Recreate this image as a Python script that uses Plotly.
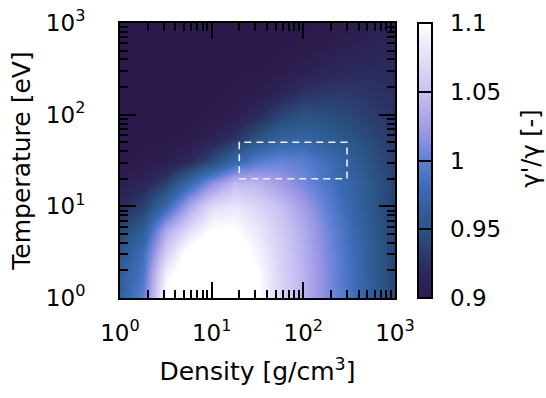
import plotly.graph_objects as go

# grid coordinates (log10 of density in g/cm^3 and temperature in eV)
log_density = [0.0, 0.25, 0.5, 0.75, 1.0, 1.25, 1.5, 1.75, 2.0, 2.25, 2.5, 2.75, 3.0]
log_temperature = [0.0, 0.25, 0.5, 0.75, 1.0, 1.25, 1.5, 1.75, 2.0, 2.25, 2.5, 2.75, 3.0]

# gamma'/gamma; rows = temperature (low -> high), cols = density
gamma_ratio = [
    [0.965, 1.000, 1.100, 1.120, 1.120, 1.120, 1.100, 1.065, 1.040, 1.012, 0.988, 0.962, 0.938],
    [0.962, 0.990, 1.090, 1.120, 1.120, 1.120, 1.100, 1.065, 1.040, 1.012, 0.987, 0.960, 0.937],
    [0.952, 0.982, 1.060, 1.110, 1.120, 1.115, 1.090, 1.062, 1.038, 1.010, 0.985, 0.958, 0.936],
    [0.938, 0.960, 1.030, 1.070, 1.100, 1.100, 1.080, 1.058, 1.035, 1.007, 0.982, 0.956, 0.935],
    [0.917, 0.935, 0.975, 1.030, 1.070, 1.080, 1.065, 1.048, 1.025, 1.000, 0.975, 0.952, 0.934],
    [0.905, 0.915, 0.935, 0.975, 1.015, 1.045, 1.040, 1.025, 1.008, 0.990, 0.972, 0.952, 0.935],
    [0.900, 0.901, 0.905, 0.917, 0.942, 0.972, 0.995, 1.002, 0.997, 0.982, 0.965, 0.947, 0.932],
    [0.900, 0.900, 0.900, 0.901, 0.910, 0.926, 0.950, 0.965, 0.970, 0.960, 0.950, 0.940, 0.930],
    [0.900, 0.900, 0.900, 0.900, 0.901, 0.906, 0.920, 0.938, 0.948, 0.945, 0.940, 0.932, 0.925],
    [0.900, 0.900, 0.900, 0.900, 0.900, 0.901, 0.904, 0.913, 0.925, 0.930, 0.930, 0.927, 0.922],
    [0.900, 0.900, 0.900, 0.900, 0.900, 0.900, 0.900, 0.902, 0.907, 0.914, 0.918, 0.920, 0.918],
    [0.900, 0.900, 0.900, 0.900, 0.900, 0.900, 0.900, 0.900, 0.901, 0.904, 0.908, 0.912, 0.914],
    [0.900, 0.900, 0.900, 0.900, 0.900, 0.900, 0.900, 0.900, 0.900, 0.901, 0.903, 0.907, 0.910],
]

# dashed box (density and temperature limits)
box_density = [20, 300]
box_temperature = [20, 50]

# tick labels
axis_tickvals = [1, 10, 100, 1000]
axis_ticktext = ["10<sup>0</sup>", "10<sup>1</sup>", "10<sup>2</sup>", "10<sup>3</sup>"]
cbar_tickvals = [0.9, 0.95, 1.0, 1.05, 1.1]
cbar_ticktext = ["0.9", "0.95", "1", "1.05", "1.1"]

colorscale = [
    [0.0, "#2d1a4c"],
    [0.1, "#2b2a5c"],
    [0.25, "#2a5585"],
    [0.4, "#3b6bb5"],
    [0.5, "#6080d5"],
    [0.6, "#9a96e4"],
    [0.75, "#c8c2f2"],
    [0.9, "#e9e6fa"],
    [1.0, "#ffffff"],
]

minor_vals = [m * d for d in (1, 10, 100) for m in range(2, 10)]
FONT = "DejaVu Sans"
TICK_FS = 23
TITLE_FS = 25
PAD = "\u00a0\u2009"

fig = go.Figure()
fig.add_trace(go.Heatmap(
    x=log_density, y=log_temperature, z=gamma_ratio,
    zmin=0.9, zmax=1.1, zsmooth="best", colorscale=colorscale,
    xaxis="x", yaxis="y",
    colorbar=dict(
        x=1.0836, xanchor="left", xref="paper", xpad=0,
        y=0.5, yanchor="middle", len=1.0, lenmode="fraction", ypad=0,
        thickness=14, outlinewidth=2, outlinecolor="black",
        tickmode="array", tickvals=cbar_tickvals,
        ticktext=[PAD + t for t in cbar_ticktext],
        ticks="inside", ticklen=14, tickwidth=2, tickcolor="black",
        tickfont=dict(family=FONT, size=TICK_FS, color="black"),
    ),
))

bx = [box_density[0], box_density[1], box_density[1], box_density[0], box_density[0]]
by = [box_temperature[0], box_temperature[0], box_temperature[1], box_temperature[1], box_temperature[0]]
fig.add_trace(go.Scatter(
    x=bx, y=by, mode="lines", xaxis="x2", yaxis="y2",
    line=dict(color="rgba(238,238,242,1)", width=1.6, dash="7px,5px"),
    hoverinfo="skip", showlegend=False,
))

log_axis = dict(
    type="log", range=[0, 3], showgrid=False, zeroline=False,
    showline=True, linewidth=2, linecolor="black", mirror="allticks",
    ticks="inside", ticklen=16, tickwidth=2, tickcolor="black",
    tickmode="array", tickvals=axis_tickvals, ticktext=axis_ticktext,
    tickfont=dict(family=FONT, size=TICK_FS, color="black"),
    minor=dict(tickmode="array", tickvals=minor_vals, ticks="inside",
               ticklen=8, tickwidth=2, tickcolor="black"),
)

fig.update_layout(
    width=546, height=398,
    margin=dict(l=120, r=151, t=23, b=100, autoexpand=False),
    paper_bgcolor="white", plot_bgcolor="white",
    showlegend=False,
    xaxis=dict(range=[0, 3], visible=False),
    yaxis=dict(range=[0, 3], visible=False),
    xaxis2=dict(log_axis, overlaying="x", anchor="y2", side="bottom",
                ticklabelstandoff=13,
                title=dict(text="Density [g/cm<sup>3</sup>]",
                           font=dict(family=FONT, size=TITLE_FS, color="black"), standoff=18)),
    yaxis2=dict(log_axis, overlaying="y", anchor="x2", side="left",
                ticklabelstandoff=28,
                title=dict(text="Temperature [eV]",
                           font=dict(family=FONT, size=TITLE_FS, color="black"), standoff=8)),
    annotations=[dict(
        text="γ'/γ [-]", textangle=-90, xref="paper", yref="paper",
        x=1.4945, y=0.5436, xanchor="center", yanchor="middle", showarrow=False,
        font=dict(family=FONT, size=24, color="black"),
    )],
)

fig.write_html("out.html", config={"displayModeBar": False},
               post_script="document.body.style.margin='0';")
